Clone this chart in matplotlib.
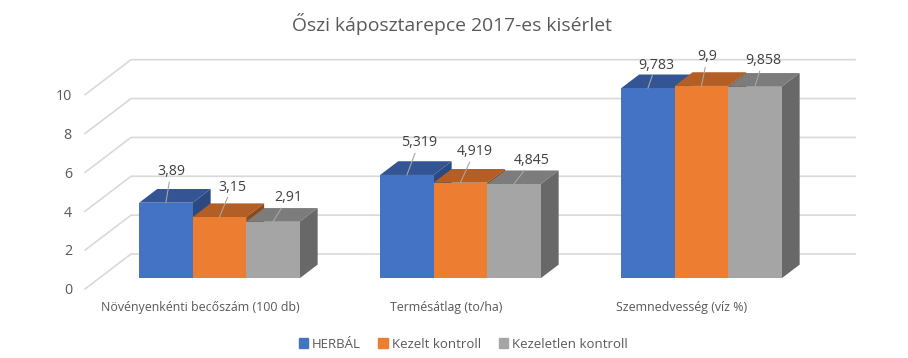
import matplotlib
matplotlib.use("Agg")
import matplotlib.pyplot as plt
from matplotlib.patches import Polygon, Patch

categories = ["Növényenkénti becőszám (100 db)", "Termésátlag (to/ha)", "Szemnedvesség (víz %)"]
series_names = ["HERBÁL", "Kezelt kontroll", "Kezeletlen kontroll"]
herbal = [3.89, 5.319, 9.783]
kezelt = [3.15, 4.919, 9.9]
kezeletlen = [2.91, 4.845, 9.858]
y_ticks = [0, 2, 4, 6, 8, 10]

front_colors = ["#4472C4", "#ED7D31", "#A5A5A5"]
top_colors = ["#335593", "#B25E24", "#7C7C7C"]
side_colors = ["#2C4A80", "#8F4A1B", "#686868"]
grid_color = "#D9D9D9"

# pixel layout of the fake 3d chart
W, H = 908, 358
GROUP0_X = 219.4
GROUP_STEP = 241.0
BASE_Y = 278.3
PX_PER_UNIT = 19.43
BAR_W = 53.5 / GROUP_STEP
BAR_DX = 18 / GROUP_STEP
BAR_DY = 13.7 / PX_PER_UNIT


def to_x(px):
    return (px - GROUP0_X) / GROUP_STEP


def to_y(py):
    return (BASE_Y - py) / PX_PER_UNIT


fig = plt.figure(figsize=(W / 100, H / 100), dpi=100)
plt.rcParams["font.family"] = ["Open Sans", "DejaVu Sans"]
ax = fig.add_axes([0, 0, 1, 1])
ax.set_xlim(to_x(0), to_x(W))
ax.set_ylim(to_y(H), to_y(0))
ax.axis("off")

# walls and floor lines
for v in y_ticks:
    front = v - 10.7 / PX_PER_UNIT
    back = v + 24.3 / PX_PER_UNIT
    ax.plot([to_x(85), to_x(131), to_x(855)], [front, back, back], color=grid_color, lw=1.2, zorder=1)
    ax.text(to_x(72), front - 1.8 / PX_PER_UNIT, str(v), ha="right", va="center", fontsize=10.3, color="#595959")

label_offsets = [
    [(5, 31), (12, 32), (8, 23)],
    [(12.5, 30), (14, 31), (6, 29)],
    [(15, 24), (18, 24), (8, 26)],
]

for s, values in enumerate([herbal, kezelt, kezeletlen]):
    for g, v in enumerate(values):
        left = g + (s - 1.5) * BAR_W
        right = left + BAR_W
        z = 3 + s
        ax.add_patch(Polygon([(left, v), (right, v), (right + BAR_DX, v + BAR_DY), (left + BAR_DX, v + BAR_DY)],
                             closed=True, fc=top_colors[s], ec="none", zorder=z))
        ax.add_patch(Polygon([(right, 0), (right + BAR_DX, BAR_DY), (right + BAR_DX, v + BAR_DY), (right, v)],
                             closed=True, fc=side_colors[s], ec="none", zorder=z))
        ax.bar(left, v, width=BAR_W, align="edge", color=front_colors[s], zorder=z)
        ax.annotate(str(v).replace(".", ","), xy=(left + BAR_W / 2, v),
                    xytext=label_offsets[s][g], textcoords="offset pixels",
                    ha="center", va="center", fontsize=10.2, color="#404040", zorder=10,
                    arrowprops=dict(arrowstyle="-", color="#A6A6A6", lw=0.8, shrinkA=0, shrinkB=0))

for px, name in zip([200, 446, 682], categories):
    ax.text(to_x(px), to_y(308), name, ha="center", va="center", fontsize=8.9, color="#595959")

ax.text(to_x(452.5), to_y(24), "Őszi káposztarepce 2017-es kisérlet", ha="center", va="center",
        fontsize=13.9, color="#595959")

handles = [Patch(color=c) for c in front_colors]
ax.legend(handles, series_names, loc="center", bbox_to_anchor=(463 / W, 1 - 344 / H), ncol=3, frameon=False,
          fontsize=9.5, labelcolor="#595959", handlelength=0.7, handleheight=0.7,
          handletextpad=0.3, columnspacing=1.35)

fig.savefig("out.png", dpi=100)
